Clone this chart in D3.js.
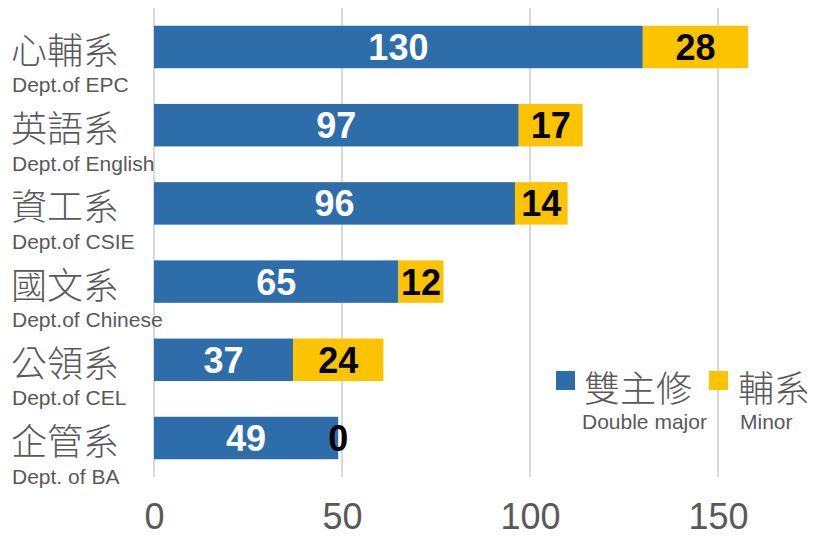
<!DOCTYPE html>
<html><head><meta charset="utf-8">
<script src="https://cdn.jsdelivr.net/npm/d3@7"></script>
<style>body{margin:0;background:#fff}svg{display:block}</style>
</head><body>
<script>
const categoriesZh = ["心輔系","英語系","資工系","國文系","公領系","企管系"];
const categoriesEn = ["Dept.of EPC","Dept.of English","Dept.of CSIE","Dept.of Chinese","Dept.of CEL","Dept. of BA"];
const doubleMajor = [130,97,96,65,37,49];
const minor = [28,17,14,12,24,0];
const tickValues = [0,50,100,150];
const seriesZh = ["雙主修","輔系"];
const seriesEn = ["Double major","Minor"];
const colors = ["#2d6da9","#fcc300"];

const W=813,H=538;
const svg=d3.select("body").append("svg").attr("width",W).attr("height",H);
const x=d3.scaleLinear().domain([0,150]).range([154,718]);
const y=d3.scaleBand().domain(d3.range(categoriesZh.length)).range([8,477]).paddingInner(0.457).paddingOuter(0.227);
const latin="Liberation Sans, Arial, sans-serif";
const cjk="'Noto Sans CJK TC', 'Noto Sans CJK SC', sans-serif";

// gridlines
svg.append("g").selectAll("line").data(tickValues).join("line")
  .attr("x1",d=>x(d)).attr("x2",d=>x(d)).attr("y1",8).attr("y2",477)
  .attr("stroke","#d9d9d9").attr("stroke-width",2);

// axis labels
const ax=svg.append("g").attr("transform","translate(0,529)")
  .call(d3.axisBottom(x).tickValues(tickValues).tickSize(0).tickPadding(0));
ax.select(".domain").remove();
ax.selectAll("text").attr("dy",0).attr("font-family",latin).attr("font-size",36).attr("fill","#595959");

const rows=svg.append("g").selectAll("g").data(d3.range(categoriesZh.length)).join("g");
rows.append("rect").attr("x",x(0)).attr("y",i=>y(i)).attr("height",y.bandwidth())
  .attr("width",i=>x(doubleMajor[i])-x(0)).attr("fill",colors[0]);
rows.append("rect").attr("x",i=>x(doubleMajor[i])).attr("y",i=>y(i)).attr("height",y.bandwidth())
  .attr("width",i=>x(doubleMajor[i]+minor[i])-x(doubleMajor[i])).attr("fill",colors[1]);
rows.append("text").attr("x",i=>(x(0)+x(doubleMajor[i]))/2).attr("y",i=>y(i)+y.bandwidth()/2+13)
  .attr("text-anchor","middle").attr("font-family",latin).attr("font-weight","bold").attr("font-size",36)
  .attr("fill","#fff").text(i=>doubleMajor[i]);
rows.append("text").attr("x",i=>(x(doubleMajor[i])+x(doubleMajor[i]+minor[i]))/2).attr("y",i=>y(i)+y.bandwidth()/2+13)
  .attr("text-anchor","middle").attr("font-family",latin).attr("font-weight","bold").attr("font-size",36)
  .attr("fill","#000").text(i=>minor[i]);
rows.append("text").attr("x",11).attr("y",i=>y(i)+y.bandwidth()/2+17)
  .attr("font-family",cjk).attr("font-weight",300).attr("font-size",36).attr("fill","#595959").text(i=>categoriesZh[i]);
rows.append("text").attr("x",12).attr("y",i=>y(i)+y.bandwidth()/2+45.5)
  .attr("font-family",latin).attr("font-size",21).attr("fill","#595959").text(i=>categoriesEn[i]);

// legend
const leg=[{sq:556,tz:584,te:582},{sq:709,tz:738,te:740}];
leg.forEach((p,i)=>{
  svg.append("rect").attr("x",p.sq).attr("y",371).attr("width",19).attr("height",19).attr("fill",colors[i]);
  svg.append("text").attr("x",p.tz).attr("y",402).attr("font-family",cjk).attr("font-weight",300).attr("font-size",36).attr("fill","#595959").text(seriesZh[i]);
  svg.append("text").attr("x",p.te).attr("y",429).attr("font-family",latin).attr("font-size",21).attr("fill","#595959").text(seriesEn[i]);
});
</script>
</body></html>
